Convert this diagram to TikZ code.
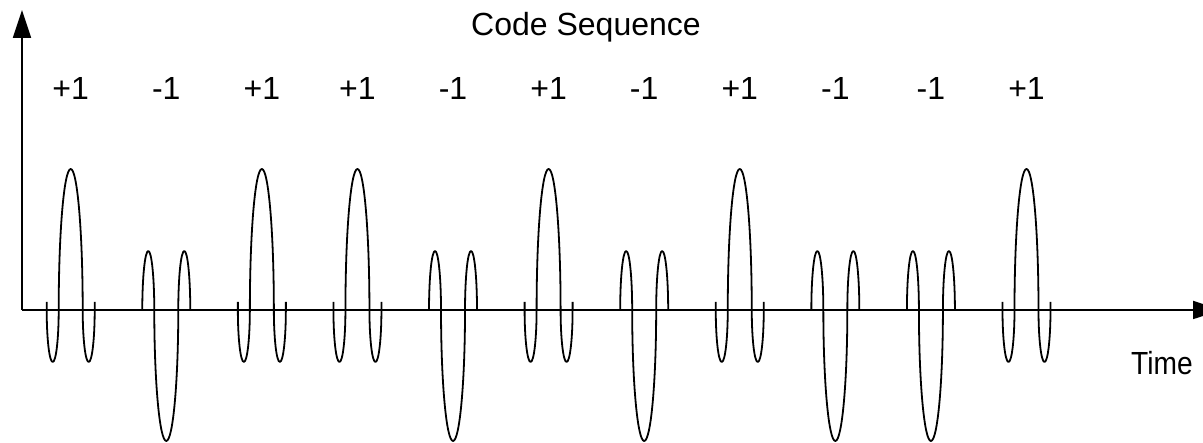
\documentclass[tikz,border=0pt]{standalone}
\usepackage{fontspec}
\setmainfont{Liberation Sans}
\usetikzlibrary{arrows.meta}

\tikzset{
  wave/.style={line width=1.8pt, line join=round},
  axis/.style={line width=1.8pt, -{Triangle[length=28pt,width=18pt]}},
  lbl/.style={font=\fontsize{32}{38}\selectfont, inner sep=0pt, anchor=base},
  % positive chip: small dip, tall peak, small dip
  poschip/.pic={
    \draw[wave] (-24,8) -- (-24,0)
      arc[start angle=180, end angle=360, x radius=6, y radius=52]
      arc[start angle=180, end angle=0, x radius=12, y radius=141]
      arc[start angle=180, end angle=360, x radius=6, y radius=52]
      -- (24,8);
  },
  % negative chip: small bump, deep trough, small bump
  negchip/.pic={
    \draw[wave] (-24,-1) -- (-24,0)
      arc[start angle=180, end angle=0, x radius=6, y radius=59]
      arc[start angle=180, end angle=360, x radius=12, y radius=131]
      arc[start angle=180, end angle=0, x radius=6, y radius=59]
      -- (24,-1);
  }
}

\begin{document}
\begin{tikzpicture}[x=1pt, y=1pt]
  \useasboundingbox (0,0) rectangle (1203,443);

  % axes
  \coordinate (origin) at (22,133);
  \coordinate (ytip) at (22,433);
  \coordinate (xtip) at (1221,133);
  \draw[axis] (origin) -- (ytip);
  \draw[axis] (origin) -- (xtip);

  % chips and their code values
  \foreach \s [count=\i from 0] in {+,-,+,+,-,+,-,+,-,-,+} {
    \pgfmathsetmacro{\cx}{70.7+95.58*\i}
    \if\s+
      \pic at (\cx,133) {poschip};
      \node[lbl] (code\i) at (\cx,343) {+1};
    \else
      \pic at (\cx,133) {negchip};
      \node[lbl] (code\i) at (\cx,343) {-1};
    \fi
  }

  \node[lbl] (title) at (586,407) {Code Sequence};
  \node[lbl, xscale=0.88] (time) at (1162,68) {Time};
\end{tikzpicture}
\end{document}
